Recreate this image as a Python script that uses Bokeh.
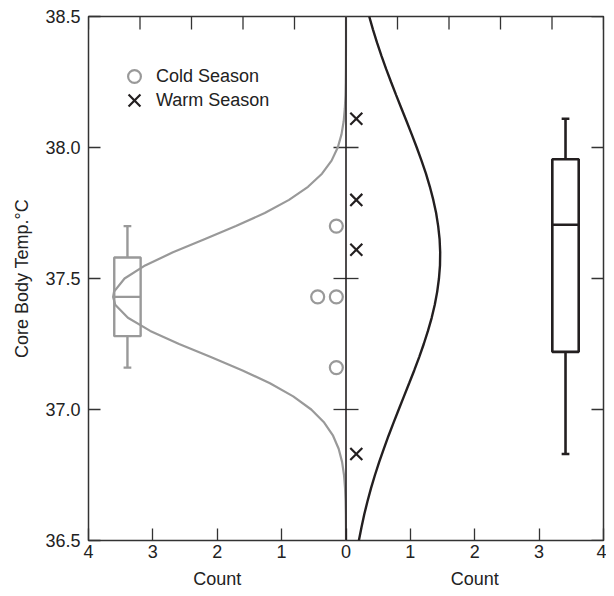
import math
from bokeh.plotting import figure
from bokeh.layouts import column
from bokeh.core.properties import value
from bokeh.models import Range1d, LinearAxis, FixedTicker, Span, Legend, LegendItem
from bokeh.embed import file_html
from bokeh.resources import INLINE

# ---------------- data ----------------
cold_temp = [37.70, 37.43, 37.43, 37.16]
cold_x = [-0.15, -0.44, -0.15, -0.15]
warm_temp = [38.11, 37.80, 37.61, 36.83]
warm_x = [0.16, 0.16, 0.16, 0.16]

# box stats: whisker low, q1, median, q3, whisker high
cold_box = [37.16, 37.28, 37.43, 37.58, 37.70]
warm_box = [36.83, 37.22, 37.705, 37.955, 38.11]

cold_curve_temp = [36.50, 36.55, 36.60, 36.65, 36.70, 36.75, 36.80, 36.85, 36.90, 36.95,
                   37.00, 37.05, 37.10, 37.15, 37.20, 37.25, 37.30, 37.35, 37.40, 37.43,
                   37.45, 37.50, 37.55, 37.60, 37.65, 37.70, 37.75, 37.80, 37.85, 37.90,
                   37.95, 38.00, 38.05, 38.10, 38.15, 38.20, 38.25, 38.30, 38.35, 38.40,
                   38.45, 38.50]
cold_curve_count = [0.000, 0.001, 0.003, 0.007, 0.015, 0.031, 0.061, 0.114, 0.201, 0.339,
                    0.540, 0.820, 1.181, 1.616, 2.100, 2.593, 3.041, 3.388, 3.585, 3.618,
                    3.603, 3.440, 3.120, 2.688, 2.199, 1.710, 1.262, 0.885, 0.590, 0.373,
                    0.224, 0.128, 0.070, 0.036, 0.018, 0.008, 0.004, 0.002, 0.001, 0.000,
                    0.000, 0.000]

warm_curve_temp = [36.50, 36.55, 36.60, 36.65, 36.70, 36.75, 36.80, 36.85, 36.90, 36.95,
                   37.00, 37.05, 37.10, 37.15, 37.20, 37.25, 37.30, 37.35, 37.40, 37.45,
                   37.50, 37.55, 37.60, 37.65, 37.70, 37.75, 37.80, 37.85, 37.90, 37.95,
                   38.00, 38.05, 38.10, 38.15, 38.20, 38.25, 38.30, 38.35, 38.40, 38.45,
                   38.50]
warm_curve_count = [0.200, 0.240, 0.284, 0.334, 0.389, 0.450, 0.516, 0.587, 0.661, 0.739,
                    0.819, 0.900, 0.981, 1.061, 1.137, 1.208, 1.273, 1.331, 1.379, 1.417,
                    1.444, 1.460, 1.463, 1.454, 1.432, 1.400, 1.356, 1.303, 1.242, 1.173,
                    1.099, 1.021, 0.941, 0.860, 0.779, 0.700, 0.623, 0.551, 0.482, 0.419,
                    0.361]

y_ticks = [36.5, 37.0, 37.5, 38.0, 38.5]
y_tick_labels = ["36.5", "37.0", "37.5", "38.0", "38.5"]
x_ticks = [-4, -3, -2, -1, 0, 1, 2, 3, 4]
x_tick_labels = ["4", "3", "2", "1", "0", "1", "2", "3", "4"]
top_ticks = [-4, -3.2, -2.4, -1.6, -0.8, 0, 0.8, 1.6, 2.4, 3.2, 4]
count_title_x = [-2, 2]
count_titles = ["Count", "Count"]

# ---------------- styling / layout ----------------
FONT = "Liberation Sans"
TXT = "#222222"
GRAY = "#999999"
BLACK = "#231f20"
FRAME = "#333333"
COLD_BOX_X, WARM_BOX_X = -3.395, 3.41
BOX_HALF, CAP_HALF = 0.205, 0.06
W, BL, BR = 606, 88, 3

x_range = Range1d(x_ticks[0], x_ticks[-1])
y_range = Range1d(y_ticks[0], y_ticks[-1])

p = figure(width=W, height=566, output_backend="svg", toolbar_location=None,
           x_range=x_range, y_range=y_range,
           min_border_left=BL, min_border_right=BR, min_border_top=16, min_border_bottom=26,
           x_axis_location=None, y_axis_location=None)
p.grid.visible = False
p.outline_line_color = FRAME
p.outline_line_width = 1.5


def style_axis(ax):
    ax.axis_line_color = None
    ax.major_tick_line_color = FRAME
    ax.major_tick_line_width = 1.3
    ax.major_tick_in = 12
    ax.major_tick_out = 0
    ax.minor_tick_line_color = None
    ax.major_label_text_font = FONT
    ax.major_label_text_color = TXT
    ax.major_label_text_font_size = "18px"
    ax.axis_label_text_font = FONT
    ax.axis_label_text_font_style = "normal"
    ax.axis_label_text_color = TXT
    ax.axis_label_text_font_size = "18px"


left = LinearAxis(ticker=FixedTicker(ticks=y_ticks),
                  major_label_overrides=dict(zip(y_ticks, y_tick_labels)),
                  axis_label="Core Body Temp.°C")
style_axis(left)
left.major_label_standoff = 8
left.axis_label_standoff = 10
p.add_layout(left, "left")

bottom = LinearAxis(ticker=FixedTicker(ticks=x_ticks),
                    major_label_overrides=dict(zip(x_ticks, x_tick_labels)))
style_axis(bottom)
bottom.major_label_standoff = 4
p.add_layout(bottom, "below")

# inward ticks on the top and right frame edges (half of each dash is clipped by the frame)
p.scatter(x=top_ticks, y=[y_ticks[-1]] * len(top_ticks), marker="dash", angle=math.pi / 2,
          size=26, line_color=FRAME, line_width=1.3)
p.scatter(x=[x_ticks[-1]] * len(y_ticks), y=y_ticks, marker="dash", size=24,
          line_color=FRAME, line_width=1.3)

# centre line with its tick marks
p.add_layout(Span(location=0, dimension="height", line_color=BLACK, line_width=1.6))
p.scatter(x=[0] * (len(y_ticks) - 2), y=y_ticks[1:-1], marker="dash", size=25,
          line_color=FRAME, line_width=1.3)

# fitted curves
p.line(x=[-c for c in cold_curve_count], y=cold_curve_temp, line_color=GRAY, line_width=2.2)
p.line(x=warm_curve_count, y=warm_curve_temp, line_color=BLACK, line_width=2.4)


def draw_box(xc, stats, color, lw):
    lo, q1, med, q3, hi = stats
    p.quad(left=[xc - BOX_HALF], right=[xc + BOX_HALF], bottom=[q1], top=[q3],
           fill_alpha=0, line_color=color, line_width=lw)
    p.segment(x0=[xc - BOX_HALF], x1=[xc + BOX_HALF], y0=[med], y1=[med],
              line_color=color, line_width=lw)
    p.segment(x0=[xc, xc], x1=[xc, xc], y0=[q3, q1], y1=[hi, lo],
              line_color=color, line_width=lw)
    p.segment(x0=[xc - CAP_HALF] * 2, x1=[xc + CAP_HALF] * 2, y0=[hi, lo], y1=[hi, lo],
              line_color=color, line_width=lw)


draw_box(COLD_BOX_X, cold_box, GRAY, 2.4)
draw_box(WARM_BOX_X, warm_box, BLACK, 2.6)

# points
r_cold = p.scatter(x=cold_x, y=cold_temp, marker="circle", size=13, fill_color=None,
                   line_color=GRAY, line_width=2.2)
r_warm = p.scatter(x=warm_x, y=warm_temp, marker="x", size=17,
                   line_color=BLACK, line_width=2.2)

# legends (one per entry so each marker keeps its own size)
common = dict(padding=0, margin=0, border_line_alpha=0, background_fill_alpha=0,
              label_text_font=FONT, label_text_font_size="18px", label_text_color=TXT)
leg1 = Legend(items=[LegendItem(label="Cold Season", renderers=[r_cold])],
              location=(30, 448), glyph_width=32, glyph_height=32, label_standoff=6, **common)
leg2 = Legend(items=[LegendItem(label="Warm Season", renderers=[r_warm])],
              location=(25, 419), glyph_width=42, glyph_height=42, label_standoff=1, **common)
p.add_layout(leg1, "center")
p.add_layout(leg2, "center")

# strip under the plot carrying the two "Count" titles
p2 = figure(width=W, height=22, output_backend="svg", toolbar_location=None,
            x_range=x_range, y_range=Range1d(0, 1),
            min_border_left=BL, min_border_right=BR, min_border_top=0, min_border_bottom=0,
            x_axis_location=None, y_axis_location=None)
p2.grid.visible = False
p2.outline_line_color = None
p2.text(x=count_title_x, y=[0, 0], text=count_titles, text_align="center",
        text_baseline="bottom", text_font=value(FONT), text_font_size=value("18px"),
        text_color=TXT)

layout = column(p, p2, spacing=0)
open("out.html", "w").write(file_html(layout, INLINE))
